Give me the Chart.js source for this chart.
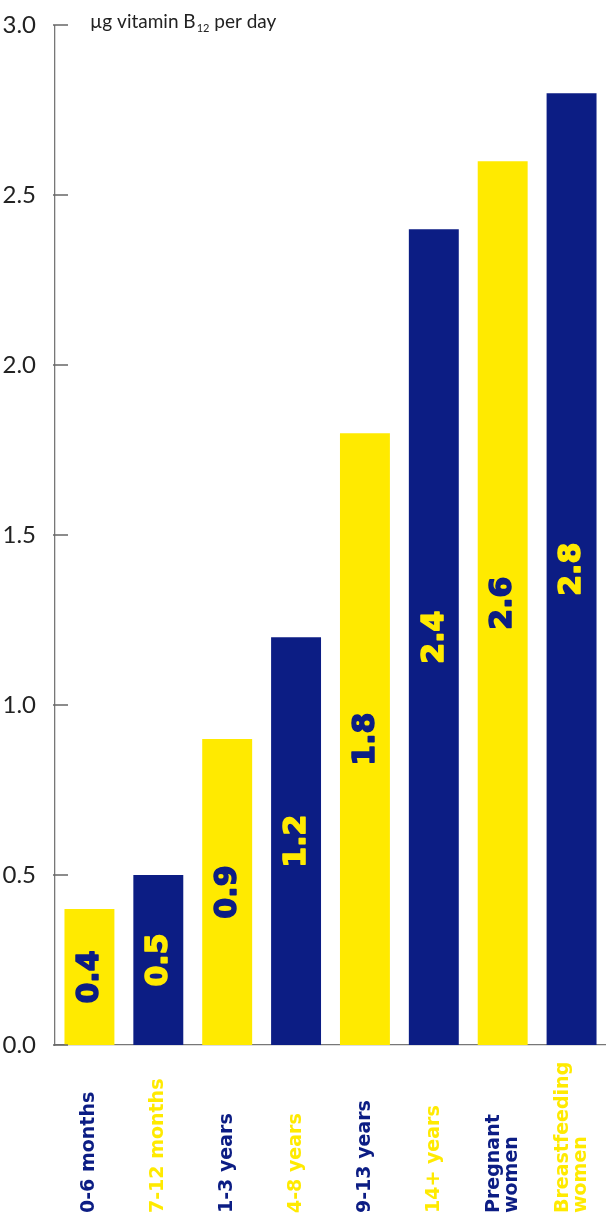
<!DOCTYPE html>
<html>
<head>
<meta charset="utf-8">
<script src="https://cdn.jsdelivr.net/npm/chart.js@4.4.1/dist/chart.umd.min.js"></script>
<style>
  html, body { margin: 0; padding: 0; background: #fff; }
  #wrap { width: 606px; height: 1216px; }
</style>
</head>
<body>
<div id="wrap"><canvas id="b12Chart"></canvas></div>
<script>
const categories = ['0-6 months', '7-12 months', '1-3 years', '4-8 years', '9-13 years', '14+ years', ['Pregnant', 'women'], ['Breastfeeding', 'women']];
const values = [0.4, 0.5, 0.9, 1.2, 1.8, 2.4, 2.6, 2.8];
const yTicks = [0, 0.5, 1.0, 1.5, 2.0, 2.5, 3.0];
const unitLabel = ['µg vitamin B', '12', ' per day'];

const YELLOW = '#ffea00';
const NAVY = '#0c1d84';
const barColors = values.map((v, i) => i % 2 === 0 ? YELLOW : NAVY);
const textColors = values.map((v, i) => i % 2 === 0 ? NAVY : YELLOW);

const labelsPlugin = {
    id: 'labelsPlugin',
    afterDraw(chart) {
        const ctx = chart.ctx;
        const x = chart.scales.x;
        const y = chart.scales.y;
        const area = chart.chartArea;

        // tick marks on the y axis, poking into the plot
        ctx.save();
        ctx.strokeStyle = '#666';
        ctx.lineWidth = 1.5;
        yTicks.forEach(t => {
            const py = Math.round(y.getPixelForValue(t));
            ctx.beginPath();
            ctx.moveTo(area.left - 2, py);
            ctx.lineTo(area.left + 13, py);
            ctx.stroke();
        });
        ctx.restore();

        // unit label
        ctx.save();
        ctx.fillStyle = '#222';
        ctx.textBaseline = 'alphabetic';
        ctx.font = '19px Lato';
        let ux = 90;
        ctx.fillText(unitLabel[0], ux, 28);
        ux += ctx.measureText(unitLabel[0]).width + 1;
        ctx.font = '11px Lato';
        ctx.fillText(unitLabel[1], ux, 32);
        ux += ctx.measureText(unitLabel[1]).width;
        ctx.font = '19px Lato';
        ctx.fillText(unitLabel[2], ux, 28);
        ctx.restore();

        // value labels inside the bars
        const meta = chart.getDatasetMeta(0);
        meta.data.forEach((bar, i) => {
            const cy = (bar.y + bar.base) / 2;
            ctx.save();
            ctx.translate(bar.x, cy);
            ctx.rotate(-Math.PI / 2);
            ctx.font = 'bold 30px "DejaVu Sans"';
            ctx.textAlign = 'center';
            ctx.textBaseline = 'middle';
            ctx.fillStyle = textColors[i];
            ctx.strokeStyle = textColors[i];
            ctx.lineWidth = 1.5;
            ctx.lineJoin = 'round';
            ctx.strokeText(values[i].toFixed(1), 0, 1);
            ctx.fillText(values[i].toFixed(1), 0, 1);
            ctx.restore();
        });

        // category labels, rotated and starting at the bottom
        categories.forEach((c, i) => {
            const lines = Array.isArray(c) ? c : [c];
            const px = x.getPixelForValue(i);
            const lh = 18;
            ctx.save();
            ctx.translate(px, x.bottom - 3);
            ctx.rotate(-Math.PI / 2);
            ctx.font = 'bold 19px "DejaVu Sans"';
            ctx.textAlign = 'left';
            ctx.textBaseline = 'middle';
            ctx.fillStyle = textColors[i];
            lines.forEach((ln, k) => {
                const off = (k - (lines.length - 1) / 2) * lh;
                ctx.fillText(ln, 0, off);
            });
            ctx.restore();
        });
    }
};

const ctx = document.getElementById('b12Chart').getContext('2d');
const b12Chart = new Chart(ctx, {
    type: 'bar',
    data: {
        labels: categories,
        datasets: [{
            data: values,
            backgroundColor: barColors,
            borderWidth: 0,
            categoryPercentage: 1.0,
            barPercentage: 0.725,
        }]
    },
    options: {
        responsive: true,
        maintainAspectRatio: false,
        animation: false,
        layout: {
            padding: { top: 18, right: 0, left: 0, bottom: 0 },
        },
        scales: {
            y: {
                min: 0,
                max: 3,
                afterBuildTicks: s => { s.ticks = yTicks.map(v => ({ value: v })); },
                afterFit: s => { s.width = 55; },
                grid: {
                    display: false,
                },
                border: {
                    display: true,
                    color: '#777',
                    width: 1.3,
                },
                ticks: {
                    padding: 11,
                    color: '#222',
                    font: {
                        family: 'Lato',
                        size: 24,
                    },
                    callback: v => Number(v).toFixed(1),
                },
            },
            x: {
                afterFit: s => { s.height = 171; },
                grid: {
                    display: false,
                },
                border: {
                    display: true,
                    color: '#777',
                    width: 1.3,
                },
                ticks: {
                    display: false,
                },
            }
        },
        plugins: {
            legend: {
                display: false,
            },
            tooltip: {
                enabled: false,
            },
        },
    },
    plugins: [labelsPlugin]
});
</script>
</body>
</html>
